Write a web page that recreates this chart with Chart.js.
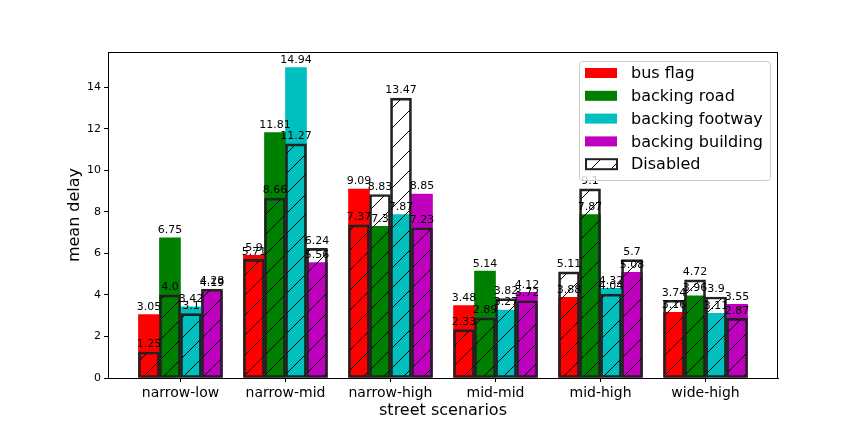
<!DOCTYPE html>
<html>
<head>
<meta charset="utf-8">
<script src="https://cdn.jsdelivr.net/npm/chart.js@4"></script>
<style>
  html, body { margin: 0; padding: 0; background: #fff; }
  #wrap { width: 864px; height: 432px; }
</style>
</head>
<body>
<div id="wrap"><canvas id="chart" width="864" height="432"></canvas></div>
<script>
// datos
const scenarios = ['narrow-low', 'narrow-mid', 'narrow-high', 'mid-mid', 'mid-high', 'wide-high'];
const seriesNames = ['bus flag', 'backing road', 'backing footway', 'backing building'];
const seriesColors = ['#ff0000', '#008000', '#00bfbf', '#bf00bf'];

// valores con la opcion activada (barras de color)
const busFlag = [3.05, 5.9, 9.09, 3.48, 3.88, 3.16];
const backingRoad = [6.75, 11.81, 7.3, 5.14, 7.87, 3.96];
const backingFootway = [3.42, 14.94, 7.87, 3.27, 4.32, 3.11];
const backingBuilding = [4.19, 5.56, 8.85, 4.12, 5.08, 3.55];

// valores con la opcion desactivada (barras rayadas)
const busFlagOff = [1.25, 5.71, 7.37, 2.33, 5.11, 3.74];
const backingRoadOff = [4.0, 8.66, 8.83, 2.89, 9.1, 4.72];
const backingFootwayOff = [3.1, 11.27, 13.47, 3.82, 4.04, 3.9];
const backingBuildingOff = [4.28, 6.24, 7.23, 3.72, 5.7, 2.87];

const yTicks = [0, 2, 4, 6, 8, 10, 12, 14];

const enabled = [busFlag, backingRoad, backingFootway, backingBuilding];
const disabled = [busFlagOff, backingRoadOff, backingFootwayOff, backingBuildingOff];

const FONT = "'DejaVu Sans', sans-serif";
const BAR_W = 0.2;

function makeHatch() {
  const n = 20;
  const c = document.createElement('canvas');
  c.width = n; c.height = n;
  const g = c.getContext('2d');
  g.strokeStyle = '#000';
  g.lineWidth = 1;
  g.beginPath();
  g.moveTo(0, n); g.lineTo(n, 0);
  g.moveTo(-n / 2, n / 2); g.lineTo(n / 2, -n / 2);
  g.moveTo(n / 2, n * 1.5); g.lineTo(n * 1.5, n / 2);
  g.stroke();
  return g.createPattern(c, 'repeat');
}
const hatch = makeHatch();

// matplotlib muestra los floats como 4.0, 7.3 ...
const fmt = v => Number.isInteger(v) ? v.toFixed(1) : String(v);

const offset = s => (s - 1.5) * BAR_W;
const toPoints = (vals, s) => vals.map((v, i) => ({ x: i + offset(s), y: v }));

const datasets = [];
enabled.forEach((vals, s) => {
  datasets.push({
    label: seriesNames[s],
    data: toPoints(vals, s),
    backgroundColor: seriesColors[s],
    borderWidth: 0,
    order: 1
  });
});
disabled.forEach((vals, s) => {
  datasets.push({
    label: 'Disabled',
    data: toPoints(vals, s),
    backgroundColor: hatch,
    borderColor: '#222',
    borderWidth: 2,
    borderSkipped: false,
    order: 0
  });
});

// etiquetas de valor encima de cada barra
const valueLabels = {
  id: 'valueLabels',
  afterDatasetsDraw(chart) {
    const ctx = chart.ctx;
    ctx.save();
    ctx.font = '11px ' + FONT;
    ctx.fillStyle = '#000';
    ctx.textAlign = 'center';
    ctx.textBaseline = 'bottom';
    chart.data.datasets.forEach((ds, di) => {
      const meta = chart.getDatasetMeta(di);
      meta.data.forEach((bar, i) => {
        ctx.fillText(fmt(ds.data[i].y), bar.x, bar.y - 2);
      });
    });
    ctx.restore();
  }
};

// marco completo y leyenda tipo matplotlib
const frameAndLegend = {
  id: 'frameAndLegend',
  afterDraw(chart) {
    const ctx = chart.ctx;
    const a = chart.chartArea;
    ctx.save();
    ctx.strokeStyle = '#000';
    ctx.lineWidth = 1;
    ctx.strokeRect(a.left + 0.5, a.top + 0.5, a.right - a.left - 1, a.bottom - a.top);

    const entries = seriesNames.map((n, s) => ({ text: n, fill: seriesColors[s], hatch: false }));
    entries.push({ text: 'Disabled', fill: hatch, hatch: true });

    const lx = 579, ly = 61, lw = 191, lh = 119;
    ctx.globalAlpha = 0.8;
    ctx.fillStyle = '#fff';
    ctx.beginPath();
    ctx.roundRect(lx + 0.5, ly + 0.5, lw, lh, 3);
    ctx.fill();
    ctx.globalAlpha = 1;
    ctx.strokeStyle = '#cccccc';
    ctx.stroke();

    ctx.font = '16px ' + FONT;
    ctx.textBaseline = 'middle';
    ctx.textAlign = 'left';
    entries.forEach((e, k) => {
      const cy = ly + 12 + k * 22.8;
      if (e.hatch) {
        ctx.fillStyle = e.fill;
        ctx.fillRect(586, cy - 5, 31, 10);
        ctx.strokeStyle = '#222';
        ctx.lineWidth = 2;
        ctx.strokeRect(586, cy - 5, 31, 10);
      } else {
        ctx.fillStyle = e.fill;
        ctx.fillRect(585, cy - 5, 32, 10);
      }
      ctx.fillStyle = '#000';
      ctx.fillText(e.text, 631, cy + 1);
    });
    ctx.restore();
  }
};

new Chart(document.getElementById('chart'), {
  type: 'bar',
  data: { datasets },
  options: {
    responsive: false,
    animation: false,
    devicePixelRatio: 1,
    layout: { padding: { top: 52, right: 86, left: 0, bottom: 0 } },
    datasets: {
      bar: { grouped: false, barPercentage: 1, categoryPercentage: 1 }
    },
    plugins: {
      legend: { display: false },
      tooltip: { enabled: false }
    },
    scales: {
      x: {
        type: 'linear',
        offset: false,
        min: -0.69,
        max: 5.69,
        afterFit(scale) { scale.height = 54; },
        grid: { drawOnChartArea: false, tickLength: 4, color: '#000', offset: false },
        border: { color: '#000' },
        ticks: {
          stepSize: 1,
          includeBounds: false,
          autoSkip: false,
          maxRotation: 0,
          padding: 3,
          color: '#000',
          font: { family: FONT, size: 14 },
          callback: v => scenarios[Math.round(v)] ?? ''
        },
        title: {
          display: true,
          text: 'street scenarios',
          color: '#000',
          font: { family: FONT, size: 16 },
          padding: { top: 0, bottom: 12 }
        }
      },
      y: {
        min: 0,
        max: 15.69,
        afterFit(scale) { scale.width = 108; },
        afterBuildTicks(scale) { scale.ticks = yTicks.map(v => ({ value: v })); },
        grid: { drawOnChartArea: false, tickLength: 4, color: '#000' },
        border: { color: '#000' },
        ticks: {
          padding: 3,
          color: '#000',
          font: { family: FONT, size: 11 }
        },
        title: {
          display: true,
          text: 'mean delay',
          color: '#000',
          font: { family: FONT, size: 16 },
          padding: { top: 65, bottom: 0 }
        }
      }
    }
  },
  plugins: [valueLabels, frameAndLegend]
});
</script>
</body>
</html>
